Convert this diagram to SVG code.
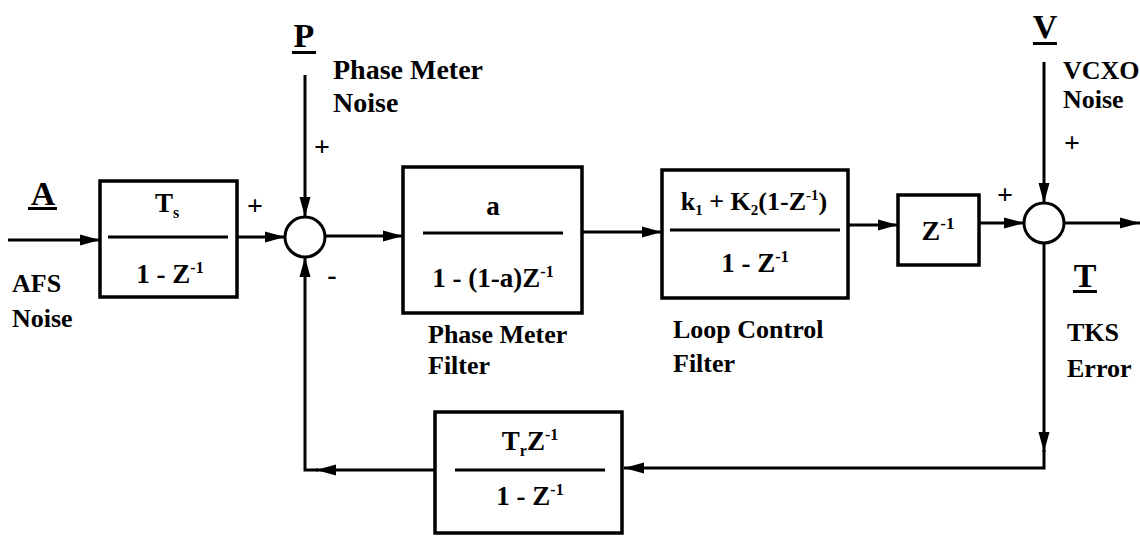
<svg xmlns="http://www.w3.org/2000/svg" width="1140" height="536" viewBox="0 0 1140 536">
<style>
text{font-family:"Liberation Serif","Times New Roman",serif;font-weight:bold;fill:#000}
.box{fill:#fff;stroke:#000;stroke-width:3.5}
.frac{stroke:#000;stroke-width:3}
.sum{fill:#fff;stroke:#000;stroke-width:3}
.lbl{font-size:26px}
.bx{font-size:27px;text-anchor:middle}
.sig{font-size:34px;text-anchor:middle}
.pm{font-size:28px;text-anchor:middle}
.wire{fill:none;stroke:#000;stroke-width:3;marker-end:url(#arr)}
</style>
<defs>
<marker id="arr" viewBox="0 0 20 12" refX="20" refY="6" markerWidth="20" markerHeight="12" markerUnits="userSpaceOnUse" orient="auto">
<path d="M0,0.5 L20,6 L0,11.5 z" fill="#000"/>
</marker>
</defs>
<rect width="1140" height="536" fill="#fff"/>

<g id="connectors">
<path class="wire" d="M8,240 H100"/>
<path class="wire" d="M237,237 H285"/>
<path class="wire" d="M305,75 V217"/>
<path class="wire" d="M325,236 H403"/>
<path class="wire" d="M582,232 H662"/>
<path class="wire" d="M848,225 H898"/>
<path class="wire" d="M979,223 H1024"/>
<path class="wire" d="M1044,62 V203"/>
<path class="wire" d="M1064,223 H1140"/>
<path class="wire" d="M1044,243 V452"/>
<path class="wire" d="M1044,450 V468 H624"/>
<path class="wire" d="M435,470 H316"/>
<path class="wire" d="M318,470 H305 V257"/>
</g>

<g id="input-A">
<text class="sig" x="43" y="205">A</text>
<rect x="28" y="207" width="29" height="3"/>
<text class="lbl" x="12" y="292">AFS</text>
<text class="lbl" x="12" y="327">Noise</text>
</g>

<g id="input-P">
<text class="sig" x="304" y="47">P</text>
<rect x="292" y="51" width="24" height="3"/>
<text class="lbl" x="333" y="79" style="font-size:28px">Phase Meter</text>
<text class="lbl" x="333" y="112" style="font-size:28px">Noise</text>
<text class="pm" x="322" y="156">+</text>
</g>

<g id="input-V">
<text class="sig" x="1045" y="38">V</text>
<rect x="1033" y="42" width="24" height="3"/>
<text class="lbl" x="1063" y="79">VCXO</text>
<text class="lbl" x="1063" y="108">Noise</text>
<text class="pm" x="1072" y="152">+</text>
</g>

<g id="box-integrator">
<rect class="box" x="100" y="181" width="137" height="116"/>
<line class="frac" x1="108" y1="237" x2="228" y2="237"/>
<text class="bx" x="167" y="212">T<tspan dy="6" font-size="16">s</tspan></text>
<text class="bx" x="170" y="283">1 - Z<tspan dy="-10" font-size="16">-1</tspan></text>
</g>

<g id="sum-1">
<circle class="sum" cx="305" cy="237" r="20"/>
<text class="pm" x="255" y="215">+</text>
<text class="pm" x="332" y="284">-</text>
</g>

<g id="box-phase-meter-filter">
<rect class="box" x="403" y="167" width="179" height="146"/>
<line class="frac" x1="423" y1="233" x2="563" y2="233"/>
<text class="bx" x="493" y="215">a</text>
<text class="bx" x="493" y="287">1 - (1-a)Z<tspan dy="-10" font-size="16">-1</tspan></text>
<text class="lbl" x="428" y="343">Phase Meter</text>
<text class="lbl" x="428" y="374">Filter</text>
</g>

<g id="box-loop-control-filter">
<rect class="box" x="662" y="170" width="186" height="128"/>
<line class="frac" x1="670" y1="230" x2="840" y2="230"/>
<text class="bx" x="754" y="210" style="font-size:26px">k<tspan dy="5" font-size="15">1</tspan><tspan dy="-5"> + K</tspan><tspan dy="5" font-size="15">2</tspan><tspan dy="-5">(1-Z</tspan><tspan dy="-10" font-size="15">-1</tspan><tspan dy="10">)</tspan></text>
<text class="bx" x="755" y="272">1 - Z<tspan dy="-10" font-size="16">-1</tspan></text>
<text class="lbl" x="673" y="338">Loop Control</text>
<text class="lbl" x="673" y="372">Filter</text>
</g>

<g id="box-delay">
<rect class="box" x="898" y="195" width="81" height="70"/>
<text class="bx" x="938" y="240" style="font-size:28px">Z<tspan dy="-11" font-size="17">-1</tspan></text>
</g>

<g id="sum-2">
<circle class="sum" cx="1044" cy="223" r="20"/>
<text class="pm" x="1005" y="204">+</text>
</g>

<g id="output-T">
<text class="sig" x="1085" y="287">T</text>
<rect x="1073" y="290" width="24" height="3"/>
<text class="lbl" x="1067" y="341">TKS</text>
<text class="lbl" x="1067" y="377">Error</text>
</g>

<g id="box-feedback">
<rect class="box" x="435" y="412" width="187" height="121"/>
<line class="frac" x1="455" y1="470" x2="605" y2="470"/>
<text class="bx" x="530" y="450">T<tspan dy="6" font-size="16">r</tspan><tspan dy="-6">Z</tspan><tspan dy="-10" font-size="16">-1</tspan></text>
<text class="bx" x="530" y="505">1 - Z<tspan dy="-10" font-size="16">-1</tspan></text>
</g>
</svg>
